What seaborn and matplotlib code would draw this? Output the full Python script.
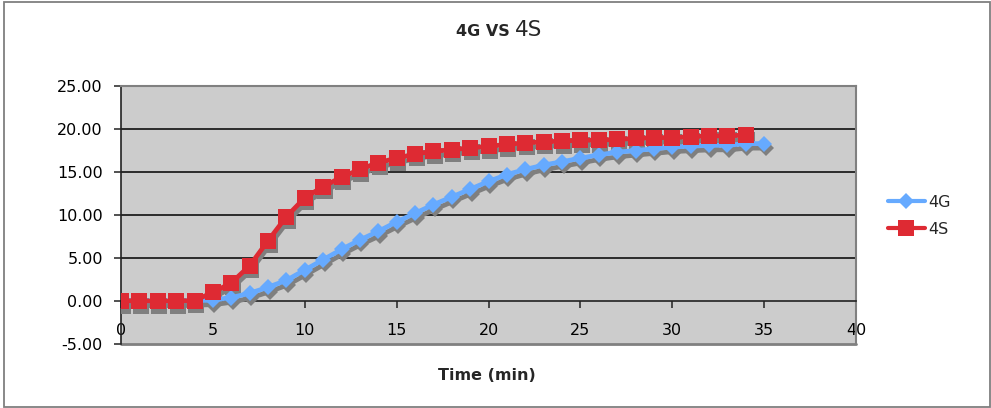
import matplotlib
matplotlib.use("Agg")
import matplotlib.pyplot as plt
import seaborn as sns
import numpy as np
import pandas as pd
from matplotlib.lines import Line2D
from matplotlib.patches import Rectangle
from matplotlib.transforms import ScaledTranslation

# ---- data ----
time_4g = list(range(0, 36))
values_4g = [0.0, 0.0, 0.0, 0.0, 0.05, 0.1, 0.4, 0.9, 1.6, 2.4, 3.6, 4.8, 6.0, 7.1,
             8.1, 9.2, 10.2, 11.2, 12.1, 13.0, 13.9, 14.7, 15.3, 15.8, 16.2, 16.6,
             17.0, 17.3, 17.5, 17.7, 17.9, 18.0, 18.1, 18.1, 18.3, 18.3]
time_4s = list(range(0, 35))
values_4s = [0.0, 0.0, 0.0, 0.0, 0.05, 1.0, 2.1, 4.1, 7.0, 9.8, 12.0, 13.3, 14.4, 15.3,
             16.1, 16.6, 17.1, 17.4, 17.6, 17.8, 18.0, 18.2, 18.4, 18.5, 18.6, 18.7,
             18.7, 18.8, 18.9, 19.0, 19.0, 19.1, 19.2, 19.2, 19.3]
series_names = ["4G", "4S"]
x_ticks = [0, 5, 10, 15, 20, 25, 30, 35, 40]
y_ticks = [-5, 0, 5, 10, 15, 20, 25]

df_4g = pd.DataFrame({"t": time_4g, "v": values_4g})
df_4s = pd.DataFrame({"t": time_4s, "v": values_4s})

sns.set_style("white")
plt.rcParams["font.family"] = ["DejaVu Sans"]

W, H = 991, 408
fig = plt.figure(figsize=(W / 100, H / 100), dpi=100)
fig.patch.set_facecolor("white")

# outer chart border
fig.patches.append(Rectangle((3.5 / W, 1.5 / H), (989.5 - 3.5) / W, (406 - 1.5) / H,
                             transform=fig.transFigure, fill=False,
                             edgecolor="#7f7f7f", linewidth=1.3))

left, right, top, bottom = 121, 856, 86, 344
ax = fig.add_axes([left / W, 1 - bottom / H, (right - left) / W, (bottom - top) / H])
ax.set_facecolor("#cccccc")

blue = "#66aaff"
red = "#de2a33"
shadow = "#7f7f7f"
lw = 3.4
off = ScaledTranslation(1.5 / 100, -4.5 / 100, fig.dpi_scale_trans)

def draw(df, color, marker, ms):
    sns.lineplot(data=df, x="t", y="v", ax=ax, color=shadow, marker=marker,
                 markersize=ms, markeredgewidth=0, linewidth=lw, zorder=3)
    ln = ax.lines[-1]
    ln.set_transform(ax.transData + off)
    sns.lineplot(data=df, x="t", y="v", ax=ax, color=color, marker=marker,
                 markersize=ms, markeredgewidth=0, linewidth=lw, zorder=4)

draw(df_4g, blue, "D", 8.5)
draw(df_4s, red, "s", 12)

ax.set_xlim(0, 40)
ax.set_ylim(-5, 25)
ax.set_xticks(x_ticks)
ax.set_yticks(y_ticks)
ax.set_yticklabels([f"{v:.2f}" for v in y_ticks])
ax.set_xticklabels([str(v) for v in x_ticks])

for y in y_ticks[2:]:
    ax.axhline(y, color="black", linewidth=1.1, zorder=1)

for s in ["top", "right"]:
    ax.spines[s].set_color("#808080")
    ax.spines[s].set_linewidth(1.5)
ax.spines["left"].set_color("#222222")
ax.spines["left"].set_linewidth(1.2)
ax.spines["bottom"].set_position(("data", 0))
ax.spines["bottom"].set_color("#222222")
ax.spines["bottom"].set_linewidth(1.2)
ax.plot([0, 1], [0, 0], transform=ax.transAxes, color="#808080", lw=2, clip_on=False)

ax.tick_params(axis="both", direction="out", length=5, width=1.1, colors="#222222",
               labelsize=11.5, labelcolor="black")
ax.tick_params(axis="x", pad=11, bottom=True)
ax.tick_params(axis="y", pad=8, left=True)
ax.set_xlabel("")
ax.set_ylabel("")

fig.text(487 / W, 1 - 380 / H, "Time (min)", ha="center", va="baseline",
         fontsize=11.5, fontweight="bold")

fig.text(510 / W, 1 - 36 / H, "4G VS", ha="right", va="baseline",
         fontsize=11.5, fontweight="bold")
fig.text(515 / W, 1 - 36 / H, "4S", ha="left", va="baseline", fontsize=15.5)

handles = [Line2D([], [], color=blue, marker="D", markersize=8, markeredgewidth=0, lw=3),
           Line2D([], [], color=red, marker="s", markersize=11, markeredgewidth=0, lw=3)]
fig.legend(handles=handles, labels=series_names, loc="center left",
           bbox_to_anchor=(888 / W, 1 - 216 / H), frameon=False, fontsize=11.5,
           handlelength=2.3, handletextpad=0.25, labelspacing=0.75, borderpad=0,
           borderaxespad=0)

fig.savefig("out.png", dpi=100, facecolor="white")
